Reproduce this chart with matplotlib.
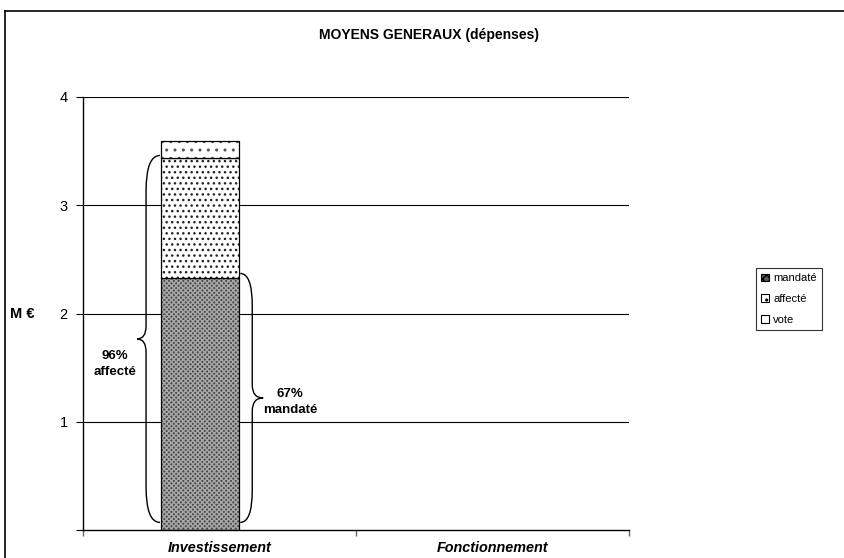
import numpy as np
import matplotlib.pyplot as plt
from matplotlib.patches import Patch, PathPatch
from matplotlib.path import Path
from matplotlib.lines import Line2D

plt.rcParams['font.family'] = ['Liberation Sans', 'DejaVu Sans']

# data (M euros)
categories = ['Investissement', 'Fonctionnement']
series = ['mandaté', 'affecté', 'vote']
mandate = [2.33, 0.0]
affecte = [1.11, 0.0]
vote = [0.15, 0.0]
pct_affecte = '96%'
pct_mandate = '67%'

fig = plt.figure(figsize=(8.45, 5.58), dpi=100)
ax = fig.add_axes([83 / 845, 1 - 530 / 558, 546 / 845, 433 / 558])

x = np.arange(len(categories)) - 0.071
w = 0.286
m = np.array(mandate)
a = np.array(affecte)
v = np.array(vote)

styles = {
    'mandaté': dict(facecolor='#4a4a4a', hatch='xxxxxxx', edgecolor='#a8a8a8'),
    'affecté': dict(facecolor='white', hatch='...', edgecolor='#222222'),
    'vote': dict(facecolor='white', hatch='..', edgecolor='#555555'),
}

bottoms = [np.zeros_like(m), m, m + a]
for name, vals, bot in zip(series, [m, a, v], bottoms):
    keep = vals > 0
    ax.bar(x[keep], vals[keep], w, bottom=bot[keep], linewidth=0, **styles[name])
    ax.bar(x[keep], vals[keep], w, bottom=bot[keep], fill=False,
           edgecolor='black', linewidth=0.9)

ax.set_xlim(-0.5, 1.5)
ax.set_ylim(0, 4)
ax.set_yticks([0, 1, 2, 3, 4])
ax.set_yticklabels(['', '1', '2', '3', '4'], fontsize=10.5)
ax.tick_params(axis='y', length=5, width=0.8, pad=6)
ax.set_xticks([-0.5, 0.5, 1.5])
ax.set_xticklabels([])
ax.tick_params(axis='x', length=4, width=1, color='#666666')
ax.set_xticks([0, 1], minor=True)
ax.set_xticklabels(categories, minor=True, fontsize=10.4,
                   fontweight='bold', fontstyle='italic')
ax.tick_params(axis='x', which='minor', length=0, pad=8)
for yv in [1, 2, 3, 4]:
    ax.axhline(yv, color='black', linewidth=0.8, zorder=0)
for s in ['top', 'right']:
    ax.spines[s].set_visible(False)
ax.spines['left'].set_linewidth(1.0)
ax.spines['bottom'].set_linewidth(1.0)


def brace(x_end, x_s, x_t, y0, y1, r=0.33, rt=0.12):
    ym = (y0 + y1) / 2
    verts = [(x_end, y1), (x_s, y1), (x_s, y1 - r),
             (x_s, ym + rt), (x_s, ym), (x_t, ym),
             (x_s, ym), (x_s, ym - rt),
             (x_s, y0 + r), (x_s, y0), (x_end, y0)]
    codes = [Path.MOVETO, Path.CURVE3, Path.CURVE3,
             Path.LINETO, Path.CURVE3, Path.CURVE3,
             Path.CURVE3, Path.CURVE3,
             Path.LINETO, Path.CURVE3, Path.CURVE3]
    ax.add_patch(PathPatch(Path(verts, codes), fill=False,
                           edgecolor='black', linewidth=1.0, clip_on=False))
    return ym


left = x[0] - w / 2
right = x[0] + w / 2
ym1 = brace(left - 0.004, left - 0.055, left - 0.088, 0.07, m[0] + a[0] + 0.02)
ax.text(left - 0.17, ym1 - 0.23, pct_affecte + '\naffecté', ha='center', va='center',
        fontsize=9.5, fontweight='bold', linespacing=1.45)
ym2 = brace(right + 0.004, right + 0.048, right + 0.088, 0.07, m[0] + 0.04, r=0.3)
ax.text(right + 0.187, ym2 - 0.04, pct_mandate + '\nmandaté', ha='center', va='center',
        fontsize=9.5, fontweight='bold', linespacing=1.45)

fig.text(429 / 845, 1 - 35 / 558, 'MOYENS GENERAUX (dépenses)', ha='center', va='center',
         fontsize=10, fontweight='bold')
fig.text(10 / 845, 1 - 314 / 558, 'M €', ha='left', va='center',
         fontsize=10.5, fontweight='bold')

handles = [Patch(facecolor='#5a5a5a', hatch='xxxx', edgecolor='black', linewidth=0.8, label='mandaté'),
           Patch(facecolor='white', hatch='..', edgecolor='black', linewidth=0.8, label='affecté'),
           Patch(facecolor='white', edgecolor='black', linewidth=0.8, label='vote')]
leg = fig.legend(handles=handles, loc='center', bbox_to_anchor=(789 / 845, 1 - 299 / 558),
                 fontsize=8, frameon=True, fancybox=False, edgecolor='black',
                 handlelength=0.7, handleheight=0.7, handletextpad=0.35,
                 labelspacing=0.95, borderpad=0.5, borderaxespad=0)
leg.get_frame().set_linewidth(0.8)

# outer chart frame
fig.add_artist(Line2D([5 / 845, 5 / 845], [0, 1 - 11 / 558], color='black', linewidth=1.2))
fig.add_artist(Line2D([5 / 845, 1], [1 - 11 / 558, 1 - 11 / 558], color='black', linewidth=1.2))

fig.savefig('out.png', dpi=100)
